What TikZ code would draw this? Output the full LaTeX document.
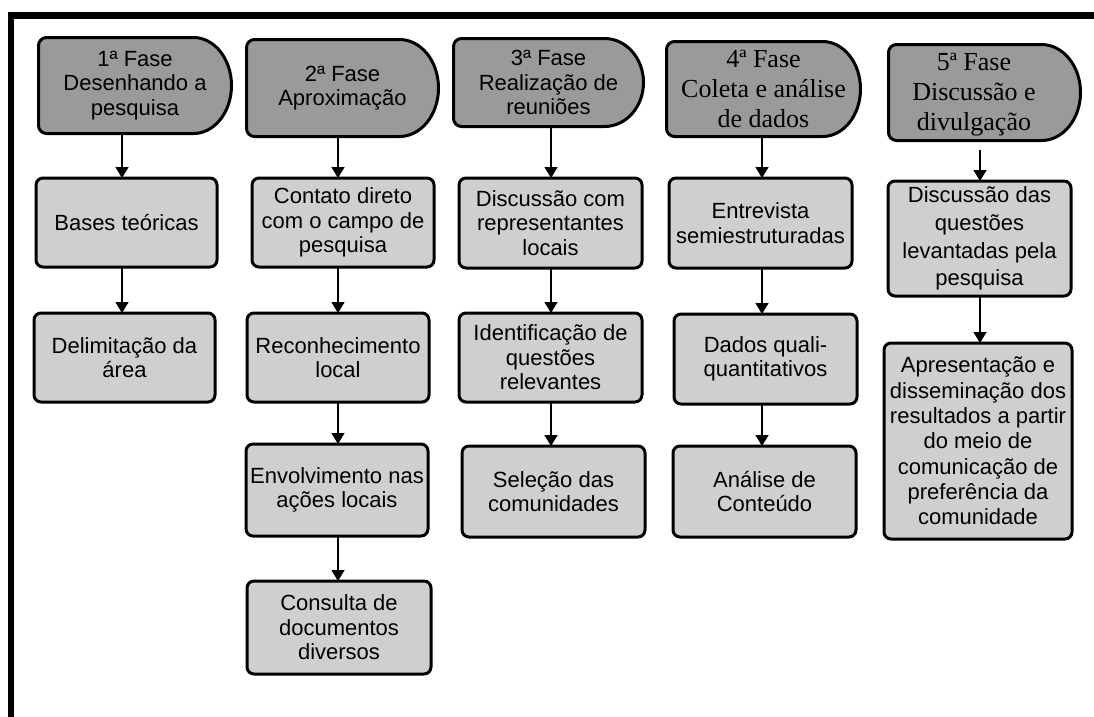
\documentclass[tikz,border=0pt]{standalone}
\usepackage{fontspec}
\setmainfont{Liberation Sans}
\newfontfamily\serifhdr{Liberation Serif}
\usetikzlibrary{arrows.meta}
\definecolor{hdrfill}{HTML}{9A9A9A}
\definecolor{boxfill}{HTML}{CFCFCF}
\newcommand\hdrpath[3]{\path[hdrshape] ([xshift=-#2pt]#1.north east) [rounded corners=8pt] -- (#1.north west) -- (#1.south west) [sharp corners] -- ([xshift=-#2pt]#1.south east) arc[start angle=-90,end angle=90,x radius=#2pt,y radius=#3pt] -- cycle;}
\begin{document}
\begin{tikzpicture}[x=1pt,y=-1pt,
  every node/.style={inner sep=0pt, outer sep=0pt},
  stepbox/.style={draw=black, line width=3pt, fill=boxfill, rounded corners=7pt, align=center, text=black, font=\fontsize{22}{24.5}\selectfont},
  hdrbox/.style={draw=none, rectangle},
  hdrshape/.style={draw=black, line width=3pt, fill=hdrfill, line join=round},
  hdrtxt/.style={align=center, text=black, font=\fontsize{22}{24.5}\selectfont},
  hdrtxtserif/.style={align=center, text=black, font=\serifhdr\fontsize{26}{30}\selectfont},
  arr/.style={line width=1.5pt, draw=black, -{Triangle[width=13pt,length=11pt]}}
]
\useasboundingbox (0,0) rectangle (1094,716);
% frame
\draw[line width=6.8pt] (1100,15.5) -- (11,15.5) -- (11,722);

% headers
\node[hdrbox, minimum width=193pt, minimum height=96pt] (h1) at (135,85.5) {};
\hdrpath{h1}{38}{48}
\node[hdrtxt] (h1t) at (h1) {1ª Fase\\Desenhando a\\pesquisa};

\node[hdrbox, minimum width=192pt, minimum height=97pt] (h2) at (342.5,88) {};
\hdrpath{h2}{39}{48.5}
\node[hdrtxt] (h2t) at (h2) {2ª Fase\\Aproximação};

\node[hdrbox, minimum width=190pt, minimum height=88pt] (h3) at (548.5,82.5) {};
\hdrpath{h3}{39}{44}
\node[hdrtxt] (h3t) at (h3) {3ª Fase\\Realização de\\reuniões};

\node[hdrbox, minimum width=194pt, minimum height=95pt] (h4) at (763.5,89) {};
\hdrpath{h4}{38}{47.5}
\node[hdrtxtserif] (h4t) at (h4) {4ª Fase\\Coleta e análise\\de dados};

\node[hdrbox, minimum width=192pt, minimum height=96pt] (h5) at (984.5,92.5) {};
\hdrpath{h5}{39}{48}
\node[hdrtxtserif] (h5t) at (974,95) {5ª Fase\\Discussão e\\divulgação};

% column 1
\node[stepbox, minimum width=181pt, minimum height=89pt] (b11) at (126.5,222.5) {Bases teóricas};
\node[stepbox, minimum width=181pt, minimum height=89pt] (b12) at (124.5,357.5) {Delimitação da\\área};
% column 2
\node[stepbox, minimum width=182pt, minimum height=89pt] (b21) at (343,222.5) {Contato direto\\com o campo de\\pesquisa};
\node[stepbox, minimum width=182pt, minimum height=89pt] (b22) at (338,357.5) {Reconhecimento\\local};
\node[stepbox, minimum width=182pt, minimum height=92pt] (b23) at (337,490) {Envolvimento nas\\ações locais};
\node[stepbox, minimum width=184pt, minimum height=93pt] (b24) at (339,627.5) {Consulta de\\documentos\\diversos};
% column 3
\node[stepbox, minimum width=183pt, minimum height=90pt] (b31) at (550.5,223) {Discussão com\\representantes\\locais};
\node[stepbox, minimum width=183pt, minimum height=89pt] (b32) at (550.5,357.5) {Identificação de\\questões\\relevantes};
\node[stepbox, minimum width=183pt, minimum height=91pt] (b33) at (553.5,491.5) {Seleção das\\comunidades};
% column 4
\node[stepbox, minimum width=183pt, minimum height=90pt] (b41) at (760.5,223) {Entrevista\\semiestruturadas};
\node[stepbox, minimum width=183pt, minimum height=90pt] (b42) at (765.5,359) {Dados quali-\\quantitativos};
\node[stepbox, minimum width=183pt, minimum height=91pt] (b43) at (764.5,491.5) {Análise de\\Conteúdo};
% column 5
\node[stepbox, minimum width=183pt, minimum height=115pt, font=\fontsize{22}{27.7}\selectfont] (b51) at (979.5,238.5) {Discussão das\\questões\\levantadas pela\\pesquisa};
\node[stepbox, minimum width=188pt, minimum height=196pt, font=\fontsize{22}{25.3}\selectfont] (b52) at (978,441) {Apresentação e\\disseminação dos\\resultados a partir\\do meio de\\comunicação de\\preferência da\\comunidade};

% arrow columns
\coordinate (c1) at (122,0);
\coordinate (c2) at (338,0);
\coordinate (c3) at (551,0);
\coordinate (c4) at (762,0);
\coordinate (c5) at (980,0);

\draw[arr] (h1.south -| c1) -- (b11.north -| c1);
\draw[arr] (b11.south -| c1) -- (b12.north -| c1);

\draw[arr] (h2.south -| c2) -- (b21.north -| c2);
\draw[arr] (b21.south -| c2) -- (b22.north -| c2);
\draw[arr] (b22.south -| c2) -- (b23.north -| c2);
\draw[arr] (b23.south -| c2) -- (b24.north -| c2);

\draw[arr] (h3.south -| c3) -- (b31.north -| c3);
\draw[arr] (b31.south -| c3) -- (b32.north -| c3);
\draw[arr] (b32.south -| c3) -- (b33.north -| c3);

\draw[arr] (h4.south -| c4) -- (b41.north -| c4);
\draw[arr] (b41.south -| c4) -- (b42.north -| c4);
\draw[arr] (b42.south -| c4) -- (b43.north -| c4);

\draw[arr, shorten <=9pt] (h5.south -| c5) -- (b51.north -| c5);
\draw[arr] (b51.south -| c5) -- (b52.north -| c5);
\end{tikzpicture}
\end{document}
